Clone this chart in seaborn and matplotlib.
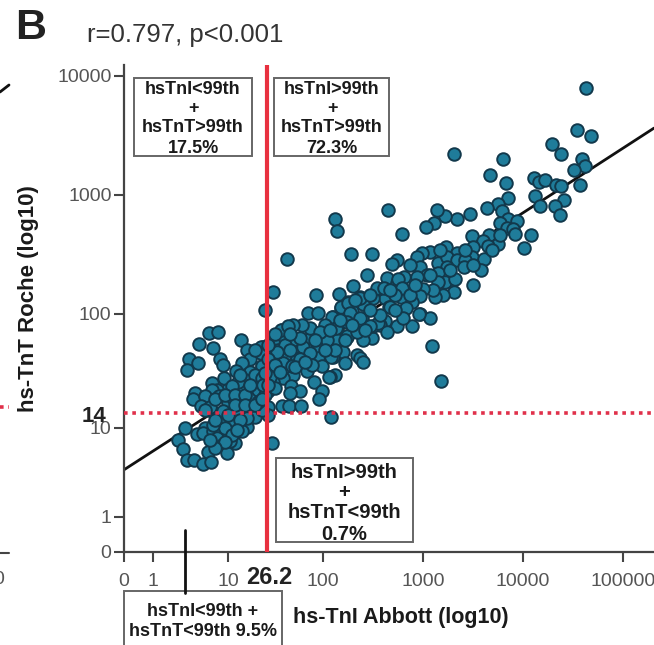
import numpy as np
import seaborn as sns
import matplotlib.pyplot as plt
from matplotlib.patches import Rectangle
from matplotlib.lines import Line2D

W, H = 654, 645

# values, in log10 units of each assay
upper_x = [4.63, 4.54, 4.68, 4.29, 4.38, 4.59, 4.62, 4.51, 4.57, 4.11,
           4.16, 4.22, 4.33, 4.38, 4.12, 4.17, 4.41, 4.32, 4.37, 3.80,
           3.67, 3.83, 3.85, 3.31, 2.65, 3.75, 3.64, 3.79, 3.47, 3.34,
           3.22, 3.14, 3.11, 3.03, 2.79, 2.12, 2.14, 3.85, 3.94, 3.77,
           3.84, 3.90, 3.92, 4.08, 4.01, 3.49, 3.66, 3.60, 3.75, 3.65,
           3.50, 3.23, 3.34, 3.07, 2.99, 2.94, 2.74, 2.69, 2.49, 2.28,
           2.44, 3.15, 3.24, 3.34, 3.49, 3.42, 3.61, 3.41, 3.58, 3.50,
           3.24, 3.15, 2.97, 3.04, 2.94, 3.22, 3.32, 3.50, 3.31, 3.20,
           3.12, 3.15, 3.10, 3.00, 2.97, 2.89, 2.81, 2.64, 2.74, 2.80,
           2.78, 2.62, 2.55, 2.30, 2.16, 2.37, 2.50, 2.25, 2.18, 2.29,
           2.40, 2.66, 2.83, 2.97, 3.07, 2.89, 2.74, 2.62, 2.57, 2.64,
           2.49, 2.40, 2.24, 2.39, 2.50, 2.10, 2.14, 2.07, 2.14, 2.20,
           2.34, 2.37, 2.40, 2.22, 2.10, 2.12, 2.07, 3.09, 3.18]
upper_y = [3.90, 3.54, 3.49, 3.43, 3.34, 3.30, 3.24, 3.21, 3.08, 3.14,
           3.11, 3.12, 3.08, 3.07, 2.99, 2.91, 2.96, 2.91, 2.83, 3.30,
           3.17, 3.10, 2.97, 3.34, 2.87, 2.92, 2.89, 2.86, 2.84, 2.80,
           2.82, 2.87, 2.76, 2.73, 2.67, 2.80, 2.70, 2.80, 2.78, 2.76,
           2.72, 2.71, 2.67, 2.66, 2.55, 2.65, 2.66, 2.61, 2.59, 2.57,
           2.56, 2.56, 2.51, 2.52, 2.51, 2.48, 2.45, 2.42, 2.50, 2.50,
           2.33, 2.43, 2.48, 2.45, 2.48, 2.45, 2.46, 2.39, 2.37, 2.41,
           2.39, 2.34, 2.39, 2.33, 2.31, 2.27, 2.29, 2.24, 2.18, 2.16,
           2.14, 2.27, 2.20, 2.21, 2.15, 2.10, 2.31, 2.30, 2.26, 2.20,
           2.14, 2.13, 2.21, 2.23, 2.17, 2.14, 2.13, 2.10, 2.05, 2.02,
           2.08, 2.06, 2.05, 2.00, 1.96, 1.89, 1.89, 1.94, 1.90, 1.84,
           1.79, 1.77, 1.80, 1.96, 1.89, 1.97, 1.84, 1.77, 1.75, 1.67,
           1.64, 1.61, 1.58, 1.57, 1.62, 1.46, 1.45, 1.72, 1.41]

middle_x = [1.62, 1.47, 1.93, 1.39, 1.84, 1.95, 2.09, 2.02, 2.18, 2.25,
            2.37, 2.27, 2.37, 2.54, 2.61, 2.75, 2.79, 2.67, 2.96, 2.80,
            2.55, 2.47, 2.24, 2.34, 2.14, 2.13, 2.24, 2.02, 1.86, 1.86,
            1.78, 1.68, 1.57, 1.58, 1.47, 1.68, 1.79, 1.94, 2.04, 2.08,
            1.95, 1.86, 1.73, 1.60, 1.53, 1.58, 1.44, 1.99, 1.83, 1.68,
            1.58, 1.47, 2.06, 1.91, 1.66, 1.76, 1.65, 1.99, 1.96, 1.57,
            1.64, 1.77, 2.08, 1.47, 1.42, 1.37, 1.36, 1.36, 1.36]
middle_y = [2.46, 2.18, 2.16, 2.03, 2.01, 2.01, 1.97, 1.90, 2.06, 2.09,
            2.13, 2.01, 1.96, 2.22, 2.22, 2.29, 2.22, 2.06, 2.00, 1.96,
            1.92, 1.89, 1.81, 1.84, 1.77, 1.88, 1.93, 1.80, 1.79, 1.88,
            1.90, 1.90, 1.86, 1.77, 1.75, 1.77, 1.71, 1.69, 1.77, 1.62,
            1.61, 1.66, 1.61, 1.64, 1.68, 1.57, 1.64, 1.54, 1.50, 1.46,
            1.44, 1.46, 1.45, 1.40, 1.37, 1.32, 1.31, 1.32, 1.25, 1.19,
            1.19, 1.19, 1.10, 1.40, 1.32, 1.71, 1.54, 1.42, 1.31]

lower_x = [0.75, 0.87, 0.61, 0.80, 1.14, 1.20, 0.48, 0.60, 0.45, 0.89,
           0.93, 1.23, 1.35, 1.35, 1.36, 1.15, 1.08, 0.95, 0.79, 1.28,
           1.23, 1.18, 0.99, 1.13, 0.85, 0.79, 0.56, 0.53, 0.69, 0.64,
           0.88, 1.00, 1.15, 1.26, 1.25, 1.32, 1.39, 1.49, 1.44, 1.15,
           1.28, 1.42, 1.42, 0.80, 0.89, 1.04, 1.20, 1.15, 0.43, 0.69,
           0.59, 0.67, 0.80, 0.96, 0.85, 1.07, 1.02, 0.92, 0.99, 0.73,
           0.33, 0.40, 0.45, 0.55, 0.67, 0.77, 1.46, 1.56, 1.63, 1.60,
           1.52, 1.67, 1.11, 1.04, 1.28, 1.36, 1.05, 0.76, 0.93, 1.09,
           1.20, 1.36, 1.37, 0.96, 1.04, 0.80]
lower_y = [1.83, 1.84, 1.74, 1.70, 1.77, 1.68, 1.60, 1.57, 1.51, 1.60,
           1.55, 1.60, 1.71, 1.66, 1.54, 1.57, 1.50, 1.44, 1.39, 1.39,
           1.49, 1.42, 1.33, 1.33, 1.33, 1.33, 1.31, 1.25, 1.28, 1.19,
           1.28, 1.22, 1.25, 1.27, 1.18, 1.33, 1.29, 1.35, 1.45, 1.16,
           1.10, 1.18, 1.11, 1.14, 1.07, 1.05, 1.01, 0.96, 1.00, 1.00,
           0.93, 0.94, 0.96, 0.93, 0.89, 0.83, 0.85, 0.81, 0.72, 0.73,
           0.87, 0.76, 0.64, 0.64, 0.60, 0.62, 0.83, 1.86, 1.89, 1.73,
           1.67, 1.54, 1.40, 1.37, 1.46, 1.44, 1.26, 1.18, 1.15, 1.13,
           1.09, 1.16, 1.38, 1.00, 0.92, 1.03]

# points hidden in the dense band, harder to read one by one
dense_x = [1.28, 1.42, 1.49, 1.65, 1.76, 1.97, 2.12, 1.76, 1.88, 2.02,
           2.22, 2.29, 2.17, 2.42, 2.57, 2.72, 2.87, 2.72, 2.47, 2.32,
           2.07, 1.92, 1.71, 1.55, 1.65, 1.49, 1.42, 1.81, 3.17, 2.92,
           3.07, 3.27, 3.42, 3.69, 3.77, 2.87, 2.67, 2.47,
           0.83, 0.96, 1.07, 1.18, 1.23, 1.07, 1.18, 1.32, 1.00, 0.83,
           1.13, 1.28, 1.36, 1.42, 1.39, 1.13, 0.69, 1.09, 0.96, 0.83,
           0.76]
dense_y = [1.68, 1.60, 1.55, 1.68, 1.79, 1.84, 1.68, 1.60, 1.55, 1.68,
           1.77, 1.90, 1.95, 1.86, 1.99, 2.03, 2.16, 2.16, 2.03, 2.12,
           1.86, 1.77, 1.53, 1.49, 1.82, 1.82, 1.73, 1.58, 2.54, 2.24,
           2.33, 2.37, 2.54, 2.54, 2.66, 2.41, 2.20, 2.16,
           1.25, 1.29, 1.29, 1.29, 1.38, 1.20, 1.20, 1.23, 1.11, 1.07,
           1.07, 1.20, 1.25, 1.38, 1.48, 1.46, 1.16, 0.98, 0.84, 0.78,
           0.87]

fit_x = [-0.4, 0, 0.48, 1, 2, 2.43, 4.28, 5.31]
fit_y = [0.53, 0.74, 1, 1.22, 1.75, 2, 3, 3.56]

x_ticks = [-0.39, 0, 1, 2, 3, 4, 5]
x_labels = ['0', '1', '10', '100', '1000', '10000', '100000']
y_ticks = [-0.39, 0, 1, 2, 3, 4]
y_labels = ['0', '1', '10', '100', '1000', '10000']

cut_x = 1.41  # 26.2
cut_y = 1.13  # 14

# the axis is not evenly spaced below 100, so piecewise scales
x_in, x_out = [-0.39, 0, 1, 2, 7], [124, 153, 228, 323, 823]
y_in, y_out = [-0.39, 0, 1, 2, 6], [552, 517, 428, 314, -162]


def x_fwd(v):
    return np.interp(v, x_in, x_out)


def x_inv(v):
    return np.interp(v, x_out, x_in)


def y_fwd(v):
    return -np.interp(v, y_in, y_out)


def y_inv(v):
    return np.interp(-np.asarray(v), y_out[::-1], y_in[::-1])


sns.set_theme(style='white')
plt.rcParams['font.family'] = ['Liberation Sans', 'DejaVu Sans']

fig = plt.figure(figsize=(W / 100, H / 100), dpi=100)
ax = fig.add_axes([124 / W, (H - 552) / H, (W - 124) / W, (552 - 65) / H])

ax.set_xscale('function', functions=(x_fwd, x_inv))
ax.set_yscale('function', functions=(y_fwd, y_inv))

sns.lineplot(x=fit_x, y=fit_y, color='#111111', linewidth=2, ax=ax,
             errorbar=None, sort=False, zorder=2)
sns.scatterplot(x=upper_x + middle_x + lower_x + dense_x,
                y=upper_y + middle_y + lower_y + dense_y,
                s=82, color='#1f7c9a', edgecolor='#12394c', linewidth=1.4,
                ax=ax, zorder=3)
ax.axvline(cut_x, color='#e8303f', linewidth=3, zorder=4)
ax.axhline(cut_y, color='#e0304a', linewidth=2.6, linestyle=(0, (1, 1.3)), zorder=4)

ax.set_xlim(-0.39, 5.31)
ax.set_ylim(-0.39, 4.09)
ax.set_xticks(x_ticks, x_labels)
ax.set_yticks(y_ticks, y_labels)
ax.tick_params(axis='both', length=7, width=1.5, color='#444444', labelcolor='#555555',
               labelsize=14, pad=2, bottom=True, left=True)
ax.tick_params(axis='x', pad=8)
ax.minorticks_off()
ax.patch.set_alpha(0)

for side in ['top', 'right']:
    ax.spines[side].set_visible(False)
for side in ['left', 'bottom']:
    ax.spines[side].set_color('#444444')
    ax.spines[side].set_linewidth(1.6)


def fx(px):
    return px / W


def fy(py):
    return 1 - py / H


def box(x0, y0, x1, y1):
    fig.add_artist(Rectangle((fx(x0), fy(y1)), fx(x1) - fx(x0), fy(y0) - fy(y1),
                             transform=fig.transFigure, facecolor='white',
                             edgecolor='#666666', linewidth=1.4, zorder=5))


def label(px, py, s, size, weight='bold', color='#1a1a1a', **kw):
    fig.text(fx(px), fy(py), s, fontsize=size, fontweight=weight, color=color,
             ha=kw.pop('ha', 'center'), va=kw.pop('va', 'center'), zorder=6, **kw)


# quadrant boxes
box(134, 78, 252, 156)
for py, s in zip([90, 109, 128, 148], ['hsTnI<99th', '+', 'hsTnT>99th', '17.5%']):
    label(193, py, s, 13)
box(274, 78, 389, 156)
for py, s in zip([90, 109, 128, 148], ['hsTnI>99th', '+', 'hsTnT>99th', '72.3%']):
    label(332, py, s, 13)
box(276, 458, 413, 542)
for py, s in zip([472, 493, 513, 535], ['hsTnI>99th', '+', 'hsTnT<99th', '0.7%']):
    label(344, py, s, 14.5)
box(124, 591, 282, 646)
label(203, 612, 'hsTnI<99th +', 13)
label(203, 632, 'hsTnT<99th 9.5%', 13)
fig.add_artist(Line2D([fx(185), fx(185)], [fy(530), fy(593)], color='#111111', linewidth=2, zorder=6))

# titles and axis labels
label(31, 28, 'B', 31, color='#222222')
label(185, 35, 'r=0.797, p<0.001', 18.5, weight='normal', color='#333333')
label(29, 299, 'hs-TnT Roche (log10)', 16, rotation=90)
label(401, 618, 'hs-TnI Abbott (log10)', 15.5)
label(269, 578, '26.2', 17, color='#222222')
label(94, 416, '14', 16, color='#222222')

# bits of the neighbouring panel at the left edge
fig.add_artist(Line2D([0, fx(9)], [fy(92), fy(85)], color='#111111', linewidth=2))
fig.add_artist(Line2D([0, fx(9)], [fy(553), fy(553)], color='#444444', linewidth=1.5))
fig.add_artist(Line2D([0, fx(9)], [fy(407), fy(407)], color='#e0304a', linewidth=2.6,
                      linestyle=(0, (1, 1.3))))
label(-1, 580, '0', 14, weight='normal', color='#555555')

fig.savefig('out.png', dpi=100, facecolor='white')
